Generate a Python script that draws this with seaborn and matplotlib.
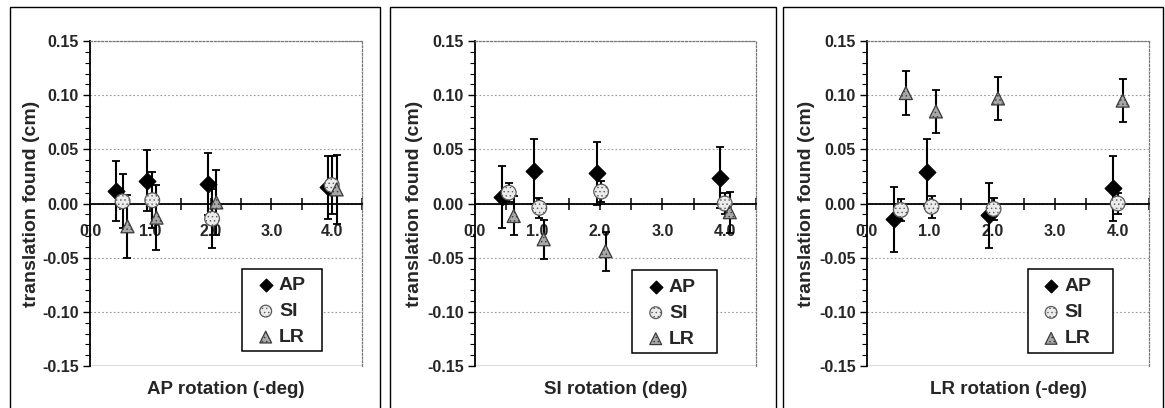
import numpy as np
import pandas as pd
import matplotlib
matplotlib.use("Agg")
import matplotlib.pyplot as plt
import seaborn as sns
from matplotlib.patches import Rectangle
from matplotlib.ticker import MultipleLocator, FormatStrFormatter

# ---------------- data ----------------
series = ["AP", "SI", "LR"]
x_AP = [0.43, 0.95, 1.95, 3.93]
x_SI = [0.54, 1.03, 2.02, 4.00]
x_LR = [0.62, 1.10, 2.09, 4.08]

panel_xlabels = ["AP rotation (-deg)", "SI rotation (deg)", "LR rotation (-deg)"]
ylabel = "translation found (cm)"
x_ticks = [0.0, 1.0, 2.0, 3.0, 4.0]
y_ticks = [-0.15, -0.10, -0.05, 0.00, 0.05, 0.10, 0.15]

# panel 1: AP rotation
p1_AP = [0.0115, 0.021, 0.018, 0.015]
p1_AP_err = [0.028, 0.028, 0.029, 0.029]
p1_SI = [0.002, 0.003, -0.014, 0.017]
p1_SI_err = [0.025, 0.026, 0.027, 0.027]
p1_LR = [-0.021, -0.013, 0.001, 0.013]
p1_LR_err = [0.029, 0.030, 0.030, 0.032]

# panel 2: SI rotation
p2_AP = [0.006, 0.030, 0.028, 0.024]
p2_AP_err = [0.029, 0.030, 0.029, 0.028]
p2_SI = [0.010, -0.004, 0.011, 0.000]
p2_SI_err = [0.009, 0.009, 0.0095, 0.010]
p2_LR = [-0.0115, -0.033, -0.044, -0.008]
p2_LR_err = [0.018, 0.018, 0.018, 0.019]

# panel 3: LR rotation
p3_AP = [-0.0146, 0.029, -0.011, 0.014]
p3_AP_err = [0.030, 0.031, 0.030, 0.030]
p3_SI = [-0.006, -0.003, -0.005, 0.000]
p3_SI_err = [0.010, 0.010, 0.010, 0.010]
p3_LR = [0.102, 0.085, 0.097, 0.095]
p3_LR_err = [0.020, 0.020, 0.020, 0.020]

panels = [
    {"AP": (p1_AP, p1_AP_err), "SI": (p1_SI, p1_SI_err), "LR": (p1_LR, p1_LR_err)},
    {"AP": (p2_AP, p2_AP_err), "SI": (p2_SI, p2_SI_err), "LR": (p2_LR, p2_LR_err)},
    {"AP": (p3_AP, p3_AP_err), "SI": (p3_SI, p3_SI_err), "LR": (p3_LR, p3_LR_err)},
]
xs = {"AP": x_AP, "SI": x_SI, "LR": x_LR}

# ---------------- styles ----------------
styles = {
    "AP": dict(marker="D", s=72, color="black", edgecolor="black", hatch=None, leg_s=42),
    "SI": dict(marker="o", s=112, color="#ececec", edgecolor="#5a5a5a", hatch="....", leg_s=72),
    "LR": dict(marker="^", s=88, color="#a8a8a8", edgecolor="#3a3a3a", hatch="....", leg_s=72),
}

sns.set_theme(style="white")
plt.rcParams["font.family"] = ["Liberation Sans", "DejaVu Sans"]
plt.rcParams["font.weight"] = "bold"
plt.rcParams["axes.labelweight"] = "bold"
plt.rcParams["hatch.linewidth"] = 0.5

W, H = 1165, 408
fig = plt.figure(figsize=(W / 100, H / 100), dpi=100)

axes_px = [(90, 41, 272, 325), (475, 41, 281, 325), (867, 41, 282, 325)]
borders_px = [(9.5, 380), (390, 776), (783, 1163)]
# legend boxes in pixels: (left, top, right, bottom)
legend_px = [(242.3, 269.3, 321.7, 350.5), (632.3, 270, 717.3, 353), (1027.7, 269.3, 1112.7, 353)]

for (bx0, bx1) in borders_px:
    fig.add_artist(Rectangle((bx0 / W, -0.02), (bx1 - bx0) / W, 1 - 7 / H + 0.02,
                             transform=fig.transFigure, fill=False,
                             edgecolor="black", linewidth=1.0))

for i, (px, py, pw, ph) in enumerate(axes_px):
    ax = fig.add_axes([px / W, 1 - (py + ph) / H, pw / W, ph / H])
    ax.set_facecolor("white")
    data = panels[i]
    for name in series:
        yv, ev = data[name]
        ax.errorbar(xs[name], yv, yerr=ev, fmt="none", ecolor="black",
                    elinewidth=1.5, capsize=3.0, capthick=1.3, zorder=3)
    for name in series:
        yv, ev = data[name]
        df = pd.DataFrame({"x": xs[name], "y": yv})
        st = styles[name]
        kw = {}
        if st["hatch"]:
            kw["hatch"] = st["hatch"]
        sns.scatterplot(data=df, x="x", y="y", ax=ax, marker=st["marker"], s=st["s"],
                        color=st["color"], edgecolor=st["edgecolor"], linewidth=0.9,
                        label=name, zorder=4, **kw)

    ax.set_xlim(0, 4.5)
    ax.set_ylim(-0.15, 0.15)
    ax.set_xticks(x_ticks)
    ax.xaxis.set_minor_locator(MultipleLocator(0.5))
    ax.xaxis.set_major_formatter(FormatStrFormatter("%.1f"))
    ax.set_yticks(y_ticks)
    ax.yaxis.set_minor_locator(MultipleLocator(0.01))
    ax.yaxis.set_major_formatter(FormatStrFormatter("%.2f"))

    ax.spines["bottom"].set_position(("data", 0))
    for sp in ["left", "bottom"]:
        ax.spines[sp].set_color("black")
        ax.spines[sp].set_linewidth(1.3)
    for sp in ["top", "right"]:
        ax.spines[sp].set_color("#777777")
        ax.spines[sp].set_linewidth(0.9)
        ax.spines[sp].set_linestyle((0, (1.5, 1.5)))
    ax.axhline(-0.15, color="#555555", linewidth=1.0, zorder=2)

    ax.yaxis.grid(True, linestyle=(0, (1.5, 2)), color="#999999", linewidth=0.8)
    ax.xaxis.grid(False)
    ax.set_axisbelow(True)

    ax.tick_params(axis="x", which="both", direction="inout", length=8, width=1.1,
                   color="black", bottom=True, pad=11, labelsize=11.5)
    ax.tick_params(axis="y", which="major", direction="out", length=5, width=1.0,
                   color="black", left=True, labelsize=11.5, pad=3)
    ax.tick_params(axis="y", which="minor", direction="out", length=3.5, width=0.8,
                   color="black", left=True)
    for lab in ax.get_xticklabels() + ax.get_yticklabels():
        lab.set_fontweight("bold")

    ax.set_xlabel(panel_xlabels[i], fontsize=13.5, fontweight="bold")
    ax.set_ylabel(ylabel, fontsize=14, fontweight="bold")
    ax.xaxis.set_label_coords(0.5, -0.045)
    ax.yaxis.set_label_coords(-0.185, 0.5)

    # legend box (frame drawn as rectangle in axes coords)
    l0, t0, r0, b0 = legend_px[i]
    ax_l = (l0 - px) / pw
    ax_b = (py + ph - b0) / ph
    ax_w = (r0 - l0) / pw
    ax_h = (b0 - t0) / ph
    ax.add_patch(Rectangle((ax_l, ax_b), ax_w, ax_h, transform=ax.transAxes,
                           facecolor="white", edgecolor="black", linewidth=1.1,
                           zorder=5))
    fs = 14 * 100 / 72.0  # font size in px
    h, l = ax.get_legend_handles_labels()
    leg_left_px = l0 + 23.4 - 0.5 * fs
    leg_cy_px = (t0 + b0) / 2 + 1.5
    leg = ax.legend(h, l, loc="center left",
                    bbox_to_anchor=((leg_left_px - px) / pw, (py + ph - leg_cy_px) / ph),
                    frameon=False, prop={"weight": "bold", "size": 14},
                    handletextpad=0.18, labelspacing=0.43, borderpad=0.0,
                    handlelength=1.0, borderaxespad=0)
    leg.set_zorder(6)
    for hd, name in zip(leg.legend_handles, l):
        hd.set_sizes([styles[name]["leg_s"]])

fig.savefig("out.png", dpi=100)
